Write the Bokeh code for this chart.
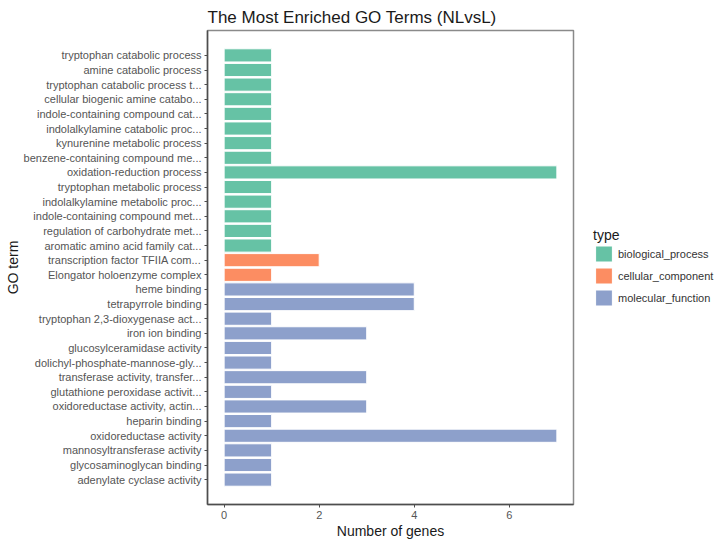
from bokeh.plotting import figure
from bokeh.models import FactorRange, Range1d, FixedTicker, Legend, LegendItem, ColumnDataSource
from bokeh.embed import file_html
from bokeh.resources import INLINE

terms = [
    "tryptophan catabolic process",
    "amine catabolic process",
    "tryptophan catabolic process t...",
    "cellular biogenic amine catabo...",
    "indole-containing compound cat...",
    "indolalkylamine catabolic proc...",
    "kynurenine metabolic process",
    "benzene-containing compound me...",
    "oxidation-reduction process",
    "tryptophan metabolic process",
    "indolalkylamine metabolic proc...",
    "indole-containing compound met...",
    "regulation of carbohydrate met...",
    "aromatic amino acid family cat...",
    "transcription factor TFIIA com...",
    "Elongator holoenzyme complex",
    "heme binding",
    "tetrapyrrole binding",
    "tryptophan 2,3-dioxygenase act...",
    "iron ion binding",
    "glucosylceramidase activity",
    "dolichyl-phosphate-mannose-gly...",
    "transferase activity, transfer...",
    "glutathione peroxidase activit...",
    "oxidoreductase activity, actin...",
    "heparin binding",
    "oxidoreductase activity",
    "mannosyltransferase activity",
    "glycosaminoglycan binding",
    "adenylate cyclase activity",
]
genes = [1, 1, 1, 1, 1, 1, 1, 1, 7, 1, 1, 1, 1, 1,
         2, 1,
         4, 4, 1, 3, 1, 1, 3, 1, 3, 1, 7, 1, 1, 1]
types = (["biological_process"] * 14 + ["cellular_component"] * 2 +
         ["molecular_function"] * 14)

type_names = ["biological_process", "cellular_component", "molecular_function"]
type_colors = ["#66C2A5", "#FC8D62", "#8DA0CB"]
x_ticks = [0, 2, 4, 6]

FONT = "Liberation Sans"

p = figure(frame_width=366, frame_height=474,
           y_range=FactorRange(factors=terms[::-1], range_padding=1.2,
                               range_padding_units="absolute"),
           x_range=Range1d(-0.35, 7.35),
           output_backend="svg", toolbar_location=None,
           min_border_left=207, min_border_right=147,
           min_border_top=30, min_border_bottom=38,
           title="The Most Enriched GO Terms (NLvsL)")

p.title.align = "left"
p.title.vertical_align = "top"
p.title.text_font = FONT
p.title.text_font_size = "17px"
p.title.text_font_style = "normal"
p.title.text_color = "#1a1a1a"
p.title.standoff = 4
p.title.offset = 0

items = []
for name, color in zip(type_names, type_colors):
    src = ColumnDataSource(dict(
        term=[t for t, ty in zip(terms, types) if ty == name],
        n=[g for g, ty in zip(genes, types) if ty == name],
    ))
    r = p.hbar(y="term", left=0, right="n", height=0.9, source=src,
               fill_color=color, line_color="white", line_width=1)
    items.append(LegendItem(label=name, renderers=[r]))

legend = Legend(items=items, title="type", location="center_left",
                glyph_width=21, glyph_height=20, spacing=2,
                label_standoff=4, padding=0, margin=20,
                title_standoff=1,
                border_line_color=None, background_fill_alpha=0)
legend.title_text_font = FONT
legend.title_text_font_size = "14px"
legend.title_text_font_style = "normal"
legend.title_text_color = "#1a1a1a"
legend.label_text_font = FONT
legend.label_text_font_size = "11px"
legend.label_text_color = "#333333"
legend.label_height = 20
p.add_layout(legend, "right")

p.xgrid.visible = False
p.ygrid.visible = False

p.outline_line_color = "#8a8a8a"
p.outline_line_width = 1.5

p.xaxis.ticker = FixedTicker(ticks=x_ticks)
p.xaxis.axis_label = "Number of genes"
p.yaxis.axis_label = "GO term"

for ax in (p.xaxis[0], p.yaxis[0]):
    ax.axis_line_color = "#4d4d4d"
    ax.axis_line_width = 1.5
    ax.major_tick_line_color = "#4d4d4d"
    ax.major_tick_out = 3
    ax.major_tick_in = 0
    ax.minor_tick_line_color = None
    ax.major_label_text_font = FONT
    ax.major_label_text_font_size = "11px"
    ax.major_label_text_color = "#555555"
    ax.axis_label_text_font = FONT
    ax.axis_label_text_font_size = "14px"
    ax.axis_label_text_font_style = "normal"
    ax.axis_label_text_color = "#1a1a1a"
    ax.axis_label_standoff = 1
    ax.major_label_standoff = 3

p.yaxis.axis_label_standoff = 0

open("out.html", "w").write(file_html(p, INLINE))
